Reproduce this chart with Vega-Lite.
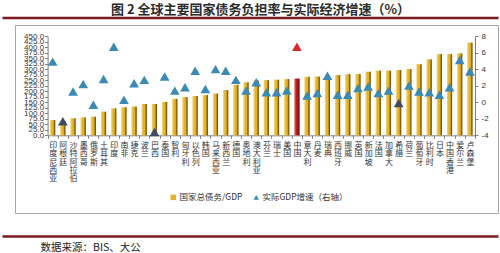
{
  "$schema": "https://vega.github.io/schema/vega-lite/v6.json",
  "width": 483,
  "height": 188,
  "autosize": "none",
  "padding": {"left": 15, "top": 25, "right": 2, "bottom": 40},
  "background": "white",
  "config": {
    "view": {"stroke": "#A6A6A6", "strokeWidth": 1},
    "font": "Noto Sans CJK SC",
    "axisX": {
      "orient": "bottom",
      "offset": -77.7,
      "title": null,
      "labelAngle": 0,
      "labelAlign": "center",
      "labelBaseline": "top",
      "labelLineHeight": 8.4,
      "labelFont": "Noto Sans CJK SC",
      "labelFontSize": 8,
      "labelColor": "#333333",
      "labelPadding": 3,
      "labelLimit": 0,
      "labelOverlap": false,
      "labelBound": false,
      "tickSize": 3,
      "tickColor": "#7F7F7F",
      "domainColor": "#7F7F7F",
      "grid": false
    },
    "axisY": {
      "title": null,
      "labelFont": "Liberation Sans",
      "labelFontSize": 8,
      "labelColor": "#333333",
      "labelOverlap": false,
      "labelBound": false,
      "labelFlush": false,
      "tickSize": 3,
      "tickColor": "#7F7F7F",
      "domainColor": "#7F7F7F",
      "grid": false
    }
  },
  "title": {
    "text": "图 2 全球主要国家债务负担率与实际经济增速（%）",
    "font": "Noto Sans CJK SC",
    "fontSize": 13,
    "fontWeight": "bold",
    "color": "#2b2b2b",
    "anchor": "middle",
    "frame": "group",
    "offset": 1,
    "dx": 4
  },
  "datasets": {
    "debt": [
      {"country": "印度尼西亚", "debt": 69, "gdp": 4.9},
      {"country": "阿根廷", "debt": 65, "gdp": -2.3},
      {"country": "沙特阿拉伯", "debt": 77, "gdp": 1.3},
      {"country": "墨西哥", "debt": 81, "gdp": 2.2},
      {"country": "俄罗斯", "debt": 84, "gdp": -0.3},
      {"country": "土耳其", "debt": 107, "gdp": 2.8},
      {"country": "印度", "debt": 122, "gdp": 6.7},
      {"country": "南非", "debt": 127, "gdp": 0.3},
      {"country": "捷克", "debt": 130, "gdp": 2.3},
      {"country": "波兰", "debt": 142, "gdp": 2.7},
      {"country": "巴西", "debt": 142, "gdp": -3.6},
      {"country": "泰国", "debt": 151, "gdp": 3.1},
      {"country": "智利", "debt": 165, "gdp": 1.4},
      {"country": "匈牙利", "debt": 173, "gdp": 1.8},
      {"country": "以色列", "debt": 178, "gdp": 3.8},
      {"country": "韩国", "debt": 182, "gdp": 1.6},
      {"country": "马来西亚", "debt": 189, "gdp": 4.0},
      {"country": "新西兰", "debt": 205, "gdp": 3.8},
      {"country": "德国", "debt": 229, "gdp": 2.7},
      {"country": "奥地利", "debt": 240, "gdp": 1.4},
      {"country": "澳大利亚", "debt": 248, "gdp": 2.4},
      {"country": "芬兰", "debt": 250, "gdp": 1.2},
      {"country": "瑞士", "debt": 252, "gdp": 1.2},
      {"country": "美国", "debt": 255, "gdp": 1.4},
      {"country": "中国", "debt": 257, "gdp": 6.7},
      {"country": "意大利", "debt": 265, "gdp": 0.8},
      {"country": "丹麦", "debt": 266, "gdp": 1.1},
      {"country": "瑞典", "debt": 270, "gdp": 3.2},
      {"country": "西班牙", "debt": 273, "gdp": 0.9},
      {"country": "挪威", "debt": 277, "gdp": 0.9},
      {"country": "英国", "debt": 278, "gdp": 1.7},
      {"country": "新加坡", "debt": 288, "gdp": 1.9},
      {"country": "法国", "debt": 293, "gdp": 1.1},
      {"country": "加拿大", "debt": 293, "gdp": 1.4},
      {"country": "希腊", "debt": 296, "gdp": -0.1},
      {"country": "荷兰", "debt": 300, "gdp": 2.0},
      {"country": "葡萄牙", "debt": 322, "gdp": 1.3},
      {"country": "比利时", "debt": 344, "gdp": 1.2},
      {"country": "日本", "debt": 368, "gdp": 0.9},
      {"country": "中国香港", "debt": 368, "gdp": 1.8},
      {"country": "爱尔兰", "debt": 371, "gdp": 5.1},
      {"country": "卢森堡", "debt": 420, "gdp": 3.7}
    ]
  },
  "layer": [
    {
      "description": "top rule under the heading, drawn as the domain line of an empty axis",
      "data": {"values": []},
      "mark": "rule",
      "encoding": {
        "x": {
          "field": "p",
          "type": "quantitative",
          "scale": {"domain": [0, 1], "range": [-13, 483]},
          "axis": {
            "orient": "top",
            "offset": 7.5,
            "domainColor": "#7A1A1E",
            "domainWidth": 2.4,
            "ticks": false,
            "labels": false,
            "grid": false,
            "title": null
          }
        }
      }
    },
    {
      "description": "bottom rule with the source note",
      "data": {"values": []},
      "mark": "rule",
      "encoding": {
        "x": {
          "field": "p",
          "type": "quantitative",
          "scale": {"domain": [0, 1], "range": [-13, 483]},
          "axis": {
            "orient": "bottom",
            "offset": 23,
            "domainColor": "#7A1A1E",
            "domainWidth": 2.4,
            "ticks": false,
            "labels": false,
            "grid": false,
            "title": "数据来源：BIS、大公",
            "titleFont": "Noto Sans CJK SC",
            "titleFontSize": 10.5,
            "titleFontWeight": "normal",
            "titleColor": "#222222",
            "titleX": 25,
            "titleY": 11,
            "titleAlign": "left",
            "titleBaseline": "middle",
            "titleAnchor": null
          }
        }
      }
    },
    {
      "data": {"name": "debt"},
      "layer": [
        {
          "layer": [
            {
              "mark": {"type": "bar", "width": {"band": 0.5}},
              "encoding": {
                "x": {
                  "field": "country",
                  "type": "nominal",
                  "sort": null,
                  "scale": {"range": [32.6, 460], "paddingInner": 0, "paddingOuter": 0},
                  "axis": {"labelExpr": "datum.value ? split(datum.value, '') : ''", "tickBand": "extent"}
                },
                "y": {
                  "field": "debt",
                  "type": "quantitative",
                  "scale": {"domain": [0, 450], "range": [110.3, 11], "nice": false, "zero": true},
                  "axis": {
                    "orient": "left",
                    "offset": -32.6,
                    "values": [0, 25, 50, 75, 100, 125, 150, 175, 200, 225, 250, 275, 300, 325, 350, 375, 400, 425, 450],
                    "format": ".1f",
                    "labelPadding": 1
                  }
                },
                "color": {
                  "datum": "国家总债务/GDP",
                  "condition": {"test": "datum.country === '中国'", "value": "#C0151B"},
                  "scale": {
                    "domain": ["国家总债务/GDP", "实际GDP增速（右轴）"],
                    "range": ["#E5B324", "#3A8AB4"]
                  },
                  "legend": {
                    "orient": "none",
                    "legendX": 154,
                    "legendY": 168,
                    "direction": "horizontal",
                    "columns": 2,
                    "columnPadding": 9,
                    "title": null,
                    "labelFont": "Noto Sans CJK SC",
                    "labelFontSize": 8.5,
                    "labelColor": "#333333",
                    "labelOffset": 2,
                    "labelLimit": 0,
                    "symbolSize": 30,
                    "symbolOpacity": 1,
                    "symbolStrokeWidth": 0,
                    "padding": 0,
                    "encode": {
                      "symbols": {
                        "update": {
                          "shape": {"signal": "datum.value === '国家总债务/GDP' ? 'square' : 'triangle-up'"}
                        }
                      }
                    }
                  }
                }
              }
            },
            {
              "description": "cylinder shading laid over each bar",
              "mark": {
                "type": "bar",
                "width": {"band": 0.5},
                "color": {
                  "gradient": "linear",
                  "x1": 0, "y1": 0, "x2": 1, "y2": 0,
                  "stops": [
                    {"offset": 0, "color": "rgba(255,244,190,0.55)"},
                    {"offset": 0.35, "color": "rgba(255,255,255,0)"},
                    {"offset": 0.6, "color": "rgba(0,0,0,0)"},
                    {"offset": 1, "color": "rgba(60,30,0,0.8)"}
                  ]
                }
              },
              "encoding": {
                "x": {
                  "field": "country",
                  "type": "nominal",
                  "sort": null,
                  "axis": {"labelExpr": "datum.value ? split(datum.value, '') : ''", "tickBand": "extent"}
                },
                "y": {
                  "field": "debt",
                  "type": "quantitative",
                  "axis": {
                    "orient": "left",
                    "offset": -32.6,
                    "values": [0, 25, 50, 75, 100, 125, 150, 175, 200, 225, 250, 275, 300, 325, 350, 375, 400, 425, 450],
                    "format": ".1f",
                    "labelPadding": 1
                  }
                }
              }
            }
          ]
        },
        {
          "mark": {"type": "point", "shape": "triangle-up", "filled": true, "size": 95, "opacity": 1},
          "encoding": {
            "x": {
              "field": "country",
              "type": "nominal",
              "sort": null,
              "axis": {"labelExpr": "datum.value ? split(datum.value, '') : ''", "tickBand": "extent"}
            },
            "y": {
              "field": "gdp",
              "type": "quantitative",
              "scale": {"domain": [-4, 8], "range": [110.3, 11], "nice": false, "zero": false},
              "axis": {
                "orient": "right",
                "offset": -23,
                "values": [-4, -2, 0, 2, 4, 6, 8],
                "labelExpr": "'' + datum.value",
                "labelPadding": 3
              }
            },
            "color": {
              "datum": "实际GDP增速（右轴）",
              "condition": [
                {"test": "datum.country === '中国'", "value": "#D8262C"},
                {"test": "indexof(['阿根廷', '巴西', '希腊'], datum.country) >= 0", "value": "#3E4A5E"}
              ]
            }
          }
        }
      ],
      "resolve": {"scale": {"y": "independent"}}
    }
  ],
  "resolve": {"scale": {"x": "independent"}}
}
